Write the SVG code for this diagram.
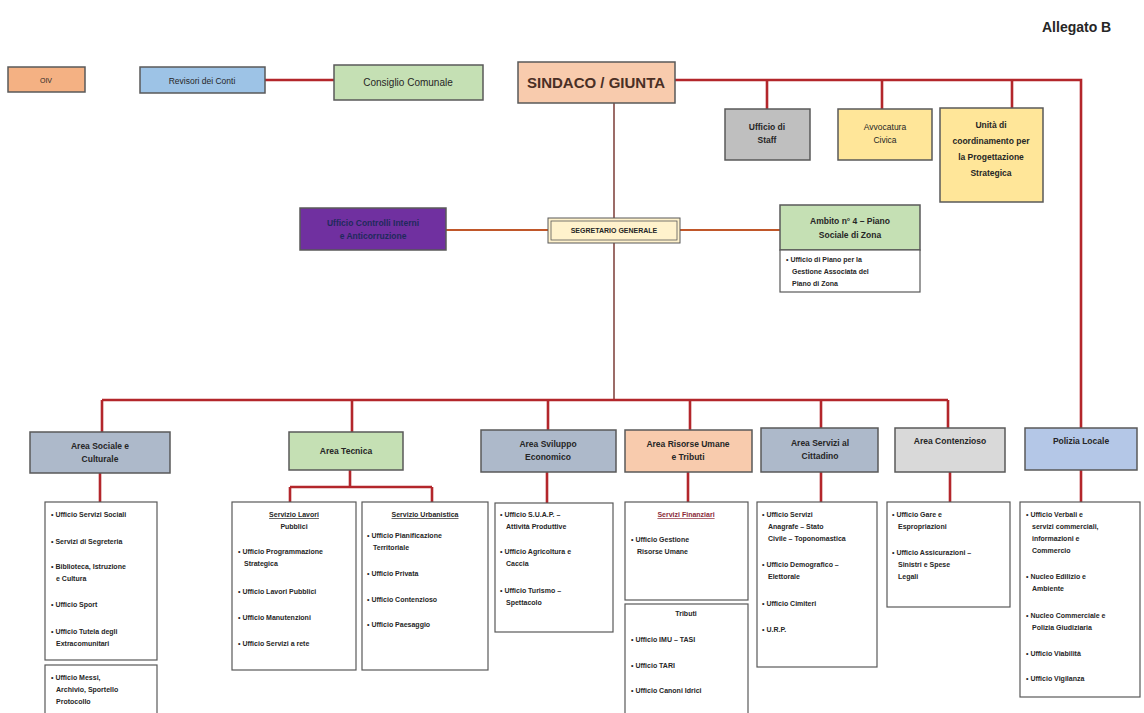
<svg xmlns="http://www.w3.org/2000/svg" width="1144" height="713" viewBox="0 0 1144 713">
<style>
text{font-family:"Liberation Sans",Arial,sans-serif;fill:#262626}
.t{font-size:7px;font-weight:bold}
.h{font-size:8.5px;font-weight:bold;text-anchor:middle}
.c{text-anchor:middle}
.box{stroke:#595959;stroke-width:1.5}
.sub{fill:#fff;stroke:#595959;stroke-width:1.2}
.red{stroke:#b3262b;stroke-width:2.6;fill:none}
.thin{stroke:#7b3b36;stroke-width:1.5;fill:none}
.org{stroke:#c0572a;stroke-width:2.2;fill:none}
.u{text-decoration:underline}
</style>
<rect width="1144" height="713" fill="#fff"/>
<text x="1042" y="32" style="font-size:14px;font-weight:bold">Allegato B</text>

<g id="connectors">
  <path class="red" d="M265 80 H334"/>
  <path class="red" d="M675 80 H1081 V428"/>
  <path class="red" d="M767 80 V109 M882 80 V109 M1012 80 V108"/>
  <path class="thin" d="M614 103 V400"/>
  <path class="org" d="M446 230 H548 M680 230 H780"/>
  <path class="red" d="M102 400 H948 M102 400 V432 M352 400 V432 M548 400 V430 M690 400 V430 M821 400 V428 M948 400 V428"/>
  <path class="red" d="M100 473 V502 M350 470 V487 M290 487 H432 M290 487 V502 M432 487 V502 M547 472 V503 M688 472 V502 M821 472 V502 M950 472 V502 M1081 470 V502"/>
</g>

<g id="oiv"><rect class="box" x="8" y="67" width="77" height="25" fill="#f4b183"/><text class="c" x="46" y="83" style="font-size:7px">OIV</text></g>
<g id="revisori"><rect class="box" x="140" y="67" width="125" height="26" fill="#9dc3e6"/><text class="c" x="202" y="84" style="font-size:8.5px">Revisori dei Conti</text></g>
<g id="consiglio"><rect class="box" x="334" y="65" width="149" height="35" fill="#c5e0b4" stroke="#7f7f7f"/><text class="c" x="408" y="86" style="font-size:10px">Consiglio Comunale</text></g>
<g id="sindaco"><rect class="box" x="518" y="62" width="157" height="41" fill="#f8cbad"/><text class="c" x="596" y="88" style="font-size:15px;font-weight:bold;fill:#4a2f25">SINDACO / GIUNTA</text></g>

<g id="staff"><rect class="box" x="725" y="109" width="85" height="51" fill="#bfbfbf"/><text class="h" x="767" y="130">Ufficio di</text><text class="h" x="767" y="143">Staff</text></g>
<g id="avvocatura"><rect class="box" x="838" y="109" width="94" height="51" fill="#ffe699"/><text class="h" x="885" y="130" style="font-weight:normal">Avvocatura</text><text class="h" x="885" y="143" style="font-weight:normal">Civica</text></g>
<g id="unita"><rect class="box" x="940" y="108" width="103" height="94" fill="#ffe699"/><text class="h" x="991" y="128">Unità di</text><text class="h" x="991" y="144">coordinamento per</text><text class="h" x="991" y="160">la Progettazione</text><text class="h" x="991" y="176">Strategica</text></g>

<g id="controlli"><rect class="box" x="300" y="208" width="146" height="42" fill="#7030a0"/><text class="h" x="373" y="226" style="fill:#1f2a5c">Ufficio Controlli Interni</text><text class="h" x="373" y="239" style="fill:#1f2a5c">e Anticorruzione</text></g>
<g id="segretario"><rect x="548" y="218" width="132" height="25" fill="#fff2cc" stroke="#595959" stroke-width="1"/><rect x="551" y="221" width="126" height="19" fill="none" stroke="#595959" stroke-width="0.8"/><text class="c" x="614" y="233" style="font-size:7px;font-weight:bold">SEGRETARIO GENERALE</text></g>
<g id="ambito"><rect class="box" x="780" y="205" width="140" height="45" fill="#c5e0b4"/><text class="h" x="850" y="224">Ambito n° 4 – Piano</text><text class="h" x="850" y="238">Sociale di Zona</text>
  <rect class="sub" x="780" y="250" width="140" height="42"/><text class="t" x="786" y="262">• Ufficio di Piano per la</text><text class="t" x="792" y="274">Gestione Associata del</text><text class="t" x="792" y="286">Piano di Zona</text></g>

<g id="area-sociale"><rect class="box" x="30" y="432" width="140" height="41" fill="#adb9ca"/><text class="h" x="100" y="449">Area Sociale e</text><text class="h" x="100" y="462">Culturale</text>
  <rect class="sub" x="45" y="502" width="112" height="158"/>
  <text class="t" x="51" y="517">• Ufficio Servizi Sociali</text>
  <text class="t" x="51" y="544">• Servizi di Segreteria</text>
  <text class="t" x="51" y="569">• Biblioteca, Istruzione</text><text class="t" x="56" y="581">e Cultura</text>
  <text class="t" x="51" y="607">• Ufficio Sport</text>
  <text class="t" x="51" y="634">• Ufficio Tutela degli</text><text class="t" x="56" y="646">Extracomunitari</text>
  <rect class="sub" x="45" y="665" width="112" height="52"/>
  <text class="t" x="51" y="680">• Ufficio Messi,</text><text class="t" x="56" y="692">Archivio, Sportello</text><text class="t" x="56" y="704">Protocollo</text></g>

<g id="area-tecnica"><rect class="box" x="289" y="432" width="114" height="38" fill="#c5e0b4"/><text class="h" x="346" y="454">Area Tecnica</text>
  <rect class="sub" x="232" y="502" width="124" height="168"/>
  <text class="t c u" x="294" y="517">Servizio Lavori</text><text class="t c" x="294" y="529">Pubblici</text>
  <text class="t" x="238" y="554">• Ufficio Programmazione</text><text class="t" x="244" y="566">Strategica</text>
  <text class="t" x="238" y="594">• Ufficio Lavori Pubblici</text>
  <text class="t" x="238" y="620">• Ufficio Manutenzioni</text>
  <text class="t" x="238" y="646">• Ufficio Servizi a rete</text>
  <rect class="sub" x="362" y="502" width="126" height="168"/>
  <text class="t c u" x="425" y="517">Servizio Urbanistica</text>
  <text class="t" x="367" y="538">• Ufficio Pianificazione</text><text class="t" x="373" y="550">Territoriale</text>
  <text class="t" x="367" y="576">• Ufficio Privata</text>
  <text class="t" x="367" y="602">• Ufficio Contenzioso</text>
  <text class="t" x="367" y="627">• Ufficio Paesaggio</text></g>

<g id="area-sviluppo"><rect class="box" x="481" y="430" width="135" height="42" fill="#adb9ca"/><text class="h" x="548" y="447">Area Sviluppo</text><text class="h" x="548" y="460">Economico</text>
  <rect class="sub" x="495" y="503" width="118" height="129"/>
  <text class="t" x="500" y="517">• Ufficio S.U.A.P. –</text><text class="t" x="506" y="529">Attività Produttive</text>
  <text class="t" x="500" y="554">• Ufficio Agricoltura e</text><text class="t" x="506" y="566">Caccia</text>
  <text class="t" x="500" y="593">• Ufficio Turismo –</text><text class="t" x="506" y="605">Spettacolo</text></g>

<g id="area-risorse"><rect class="box" x="625" y="430" width="127" height="42" fill="#f8cbad"/><text class="h" x="688" y="447">Area Risorse Umane</text><text class="h" x="688" y="460">e Tributi</text>
  <rect class="sub" x="625" y="502" width="123" height="98"/>
  <text class="t c u" x="686" y="517" style="fill:#8b2b3a">Servizi Finanziari</text>
  <text class="t" x="631" y="542">• Ufficio Gestione</text><text class="t" x="637" y="554">Risorse Umane</text>
  <rect class="sub" x="625" y="604" width="123" height="112"/>
  <text class="t c" x="686" y="616">Tributi</text>
  <text class="t" x="631" y="642">• Ufficio IMU – TASI</text>
  <text class="t" x="631" y="668">• Ufficio TARI</text>
  <text class="t" x="631" y="693">• Ufficio Canoni Idrici</text></g>

<g id="area-servizi"><rect class="box" x="761" y="428" width="117" height="44" fill="#adb9ca"/><text class="h" x="820" y="446">Area Servizi al</text><text class="h" x="820" y="459">Cittadino</text>
  <rect class="sub" x="757" y="502" width="120" height="165"/>
  <text class="t" x="762" y="517">• Ufficio Servizi</text><text class="t" x="768" y="529">Anagrafe – Stato</text><text class="t" x="768" y="541">Civile – Toponomastica</text>
  <text class="t" x="762" y="567">• Ufficio Demografico –</text><text class="t" x="768" y="579">Elettorale</text>
  <text class="t" x="762" y="606">• Ufficio Cimiteri</text>
  <text class="t" x="762" y="632">• U.R.P.</text></g>

<g id="area-contenzioso"><rect class="box" x="895" y="428" width="110" height="44" fill="#d9d9d9"/><text class="h" x="950" y="444">Area Contenzioso</text>
  <rect class="sub" x="887" y="502" width="123" height="105"/>
  <text class="t" x="892" y="517">• Ufficio Gare e</text><text class="t" x="898" y="529">Espropriazioni</text>
  <text class="t" x="892" y="555">• Ufficio Assicurazioni –</text><text class="t" x="898" y="567">Sinistri e Spese</text><text class="t" x="898" y="579">Legali</text></g>

<g id="polizia"><rect class="box" x="1025" y="428" width="112" height="42" fill="#b4c7e7"/><text class="h" x="1081" y="444">Polizia Locale</text>
  <rect class="sub" x="1020" y="502" width="120" height="195"/>
  <text class="t" x="1026" y="517">• Ufficio Verbali e</text><text class="t" x="1032" y="529">servizi commerciali,</text><text class="t" x="1032" y="541">informazioni e</text><text class="t" x="1032" y="553">Commercio</text>
  <text class="t" x="1026" y="579">• Nucleo Edilizio e</text><text class="t" x="1032" y="591">Ambiente</text>
  <text class="t" x="1026" y="618">• Nucleo Commerciale e</text><text class="t" x="1032" y="630">Polizia Giudiziaria</text>
  <text class="t" x="1026" y="656">• Ufficio Viabilità</text>
  <text class="t" x="1026" y="681">• Ufficio Vigilanza</text></g>
</svg>
